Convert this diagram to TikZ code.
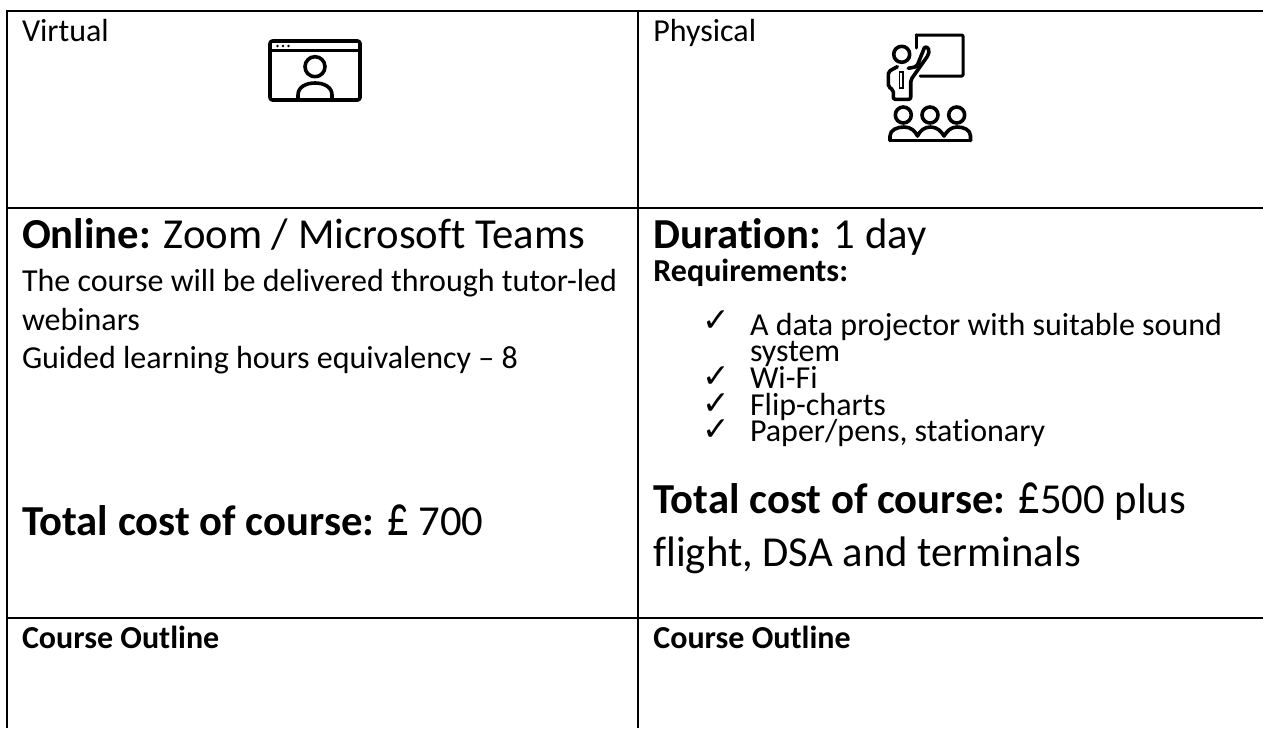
\documentclass[tikz,border=0pt]{standalone}
\usepackage{fontspec}
\setmainfont[Ligatures={NoCommon}]{Carlito}
\newfontfamily\symfont{DejaVu Sans}
\tikzset{
 x=1pt,y=-1pt,
 txt/.style={anchor=base west,inner sep=0pt,outer sep=0pt},
 tick/.style={anchor=base west,inner sep=0pt,outer sep=0pt,font=\fontsize{33}{33}\selectfont\symfont},
 rule/.style={line width=2pt,black},
 icon/.style={line width=3.6pt,black,line join=round,line cap=round},
 iconthin/.style={line width=3pt,black,line join=round,line cap=round},
}
\newcommand{\fs}[1]{\fontsize{#1}{#1}\selectfont}
\newcommand{\pnd}{\scalebox{1}[1.35]{£}}
\begin{document}
\begin{tikzpicture}
\useasboundingbox (0,0) rectangle (1263,728);
\fill[white] (0,0) rectangle (1263,728);
% table
\draw[rule] (7,11) -- (1263,11);
\draw[rule] (7,207.7) -- (1263,207.7);
\draw[rule] (7,617.7) -- (1263,617.7);
\draw[rule] (7,10) -- (7,728);
\draw[rule] (638,10) -- (638,728);
% row 1
\node[txt] (v) at (22,41.7) {\fs{32}Virtual};
\node[txt] (p) at (653.4,41.7) {\fs{32}Physical};
% virtual icon
\draw[icon,rounded corners=2.5pt] (270,41) rectangle (360,100);
\draw[iconthin] (270,50) -- (360,50);
\fill (277.5,46) circle (1.3) (283,46) circle (1.3) (288.5,46) circle (1.3);
\draw[icon] (315,66.7) circle (10);
\draw[icon] (298,99) -- (298,95) .. controls (298,87) and (306,83) .. (315,83) .. controls (324,83) and (332,87) .. (332,95) -- (332,99);
% physical icon
\draw[iconthin,rounded corners=1pt] (916,35) -- (963,35) -- (963,76) -- (920,76);
\draw[iconthin] (916,35) -- (916,48);
\draw[icon] (901.7,54.3) circle (8);
\draw[icon,rounded corners=2pt] (897.3,66.7) -- (888.3,71.7) -- (888.3,86.7) -- (893.3,90) -- (893.3,99.3) -- (910.7,99.3) -- (910.7,80) -- (928.3,55)
  .. controls (930,47) and (925,46) .. (923.5,50) -- (916.7,66.7) -- (908.3,68.3);
\draw[line width=1.5pt] (899.5,72) -- (899.5,88) -- (903,88) -- (903,72) -- cycle;
\draw[icon] (903.3,115) circle (8);
\draw[icon] (930,115) circle (8);
\draw[icon] (956.7,115) circle (8);
\draw[icon] (890,140.5) -- (970.5,140.5);
\draw[icon] (890,140.5) -- (890,136) .. controls (890,130) and (897,127) .. (904,127) .. controls (911,127) and (915,131) .. (917.5,136) .. controls (920,131) and (924,127) .. (930.5,127) .. controls (937,127) and (941,131) .. (944,136) .. controls (947,131) and (951,127) .. (957,127) .. controls (964,127) and (970.5,130) .. (970.5,136) -- (970.5,140.5);
% row 2 left
\node[txt] (a1) at (22,248) {\fs{42.7}\textbf{Online:} Zoom / Microsoft Teams};
\node[txt] (a2) at (22,291) {\fs{32}The course will be delivered through tutor-led};
\node[txt] (a3) at (22,330) {\fs{32}webinars};
\node[txt] (a4) at (22,368.5) {\fs{32}Guided learning hours equivalency – 8};
\node[txt] (a5) at (22,535.7) {\fs{42.7}\textbf{Total cost of course:} \pnd\ 700};
% row 2 right
\node[txt] (b1) at (653.4,248) {\fs{42.7}\textbf{Duration:} 1 day};
\node[txt] (b2) at (653.4,281.7) {\fs{32}\textbf{Requirements:}};
\node[tick] (c1) at (702,331) {✓};
\node[tick] (c2) at (702,387) {✓};
\node[tick] (c3) at (702,414) {✓};
\node[tick] (c4) at (702,440) {✓};
\node[txt] (b3) at (750,335) {\fs{32}A data projector with suitable sound};
\node[txt] (b4) at (750,361.7) {\fs{32}system};
\node[txt] (b5) at (750,388) {\fs{32}Wi-Fi};
\node[txt] (b6) at (750,415) {\fs{32}Flip-charts};
\node[txt] (b7) at (750,441.7) {\fs{32}Paper/pens, stationary};
\node[txt] (b8) at (653.4,513) {\fs{42.7}\textbf{Total cost of course:} \pnd{}500 plus};
\node[txt] (b9) at (653.4,566.7) {\fs{42.7}flight, DSA and terminals};
% row 3
\node[txt] (o1) at (22,648) {\fs{32}\textbf{Course Outline}};
\node[txt] (o2) at (653.4,648) {\fs{32}\textbf{Course Outline}};
\end{tikzpicture}
\end{document}
